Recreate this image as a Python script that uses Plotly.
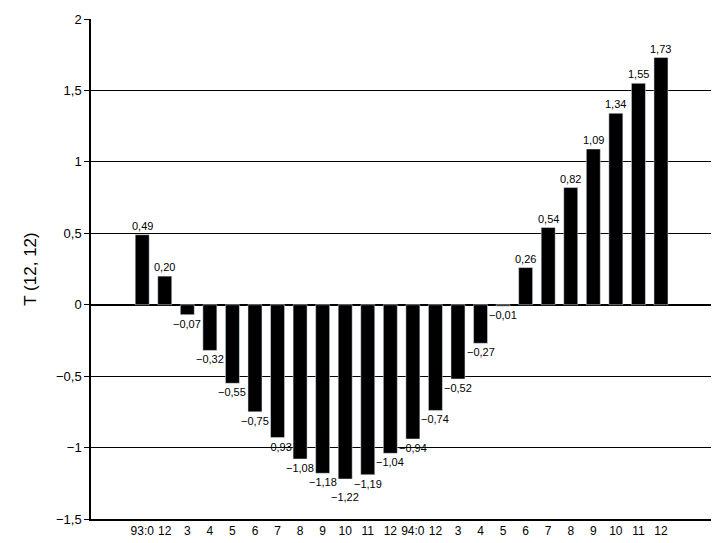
import plotly.graph_objects as go

labels = ["93:0", "12", "3", "4", "5", "6", "7", "8", "9", "10", "11", "12",
          "94:0", "12", "3", "4", "5", "6", "7", "8", "9", "10", "11", "12"]
values = [0.49, 0.20, -0.07, -0.32, -0.55, -0.75, -0.93, -1.08, -1.18, -1.22, -1.19, -1.04,
          -0.94, -0.74, -0.52, -0.27, -0.01, 0.26, 0.54, 0.82, 1.09, 1.34, 1.55, 1.73]

x = list(range(len(values)))
texts = [f"{v:.2f}".replace(".", ",").replace("-", "\u2212") for v in values]

fig = go.Figure()
fig.add_trace(go.Bar(x=x, y=values, width=0.62, marker_color="black"))
for i, v in enumerate(values):
    shift = 1 if v >= 0 else -1
    if v == min(values):
        shift = -10  # lowest label pushed down so it clears its neighbours
    fig.add_annotation(x=i, y=v, text=texts[i], showarrow=False,
                       yanchor="bottom" if v >= 0 else "top", yshift=shift,
                       font=dict(size=11, color="black"))
fig.update_layout(
    width=719, height=543, plot_bgcolor="white", paper_bgcolor="white",
    margin=dict(l=83, r=4, t=9, b=32), showlegend=False,
    font=dict(family="Liberation Sans, Arial", color="black", size=13),
    separators=", ",
)
fig.update_xaxes(range=[-2.27, 25.75], tickvals=x, ticktext=labels, showline=True,
                 linecolor="black", linewidth=2, ticks="", showgrid=False,
                 tickfont=dict(size=12))
fig.update_yaxes(range=[-1.5, 2], dtick=0.5, showgrid=True, gridcolor="black", gridwidth=1,
                 showline=True, linecolor="black", linewidth=1.5, ticks="outside",
                 ticklen=5, tickcolor="black", zeroline=True, zerolinecolor="black",
                 title=dict(text="T (12, 12)", font=dict(size=17)),
                 tickfont=dict(size=13), tickformat=",.1~f")
fig.write_html("out.html")
